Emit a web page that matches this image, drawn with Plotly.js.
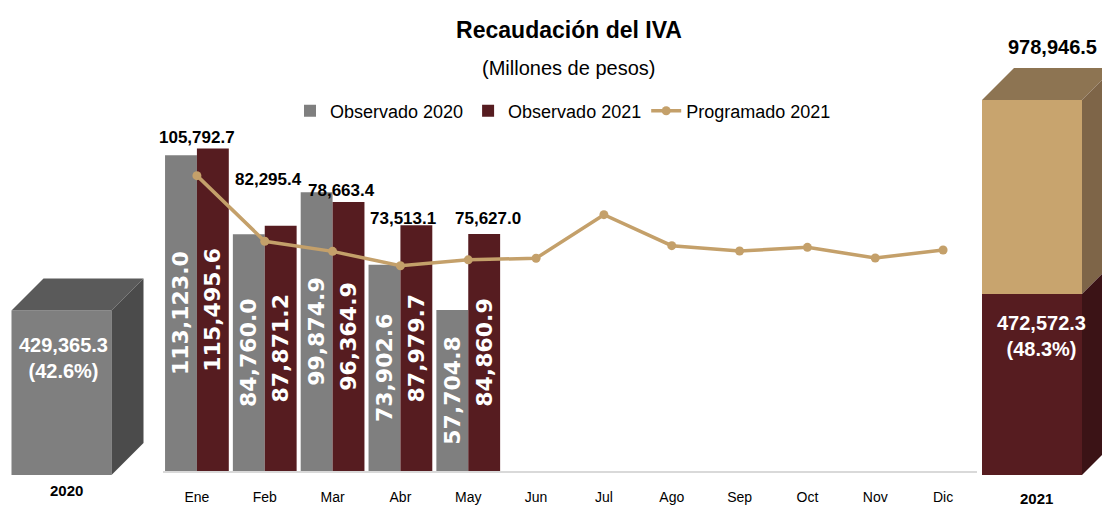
<!DOCTYPE html>
<html><head><meta charset="utf-8">
<script src="https://cdn.plot.ly/plotly-3.0.1.min.js"></script>
<style>html,body{margin:0;padding:0;background:#fff}</style>
</head><body><div id="chart" style="width:1102px;height:510px"></div>
<script>
// ---------- data ----------
const months = ['Ene','Feb','Mar','Abr','May','Jun','Jul','Ago','Sep','Oct','Nov','Dic'];
const observado2020 = [113123.0, 84760.0, 99874.9, 73902.6, 57704.8];
const observado2021 = [115495.6, 87871.2, 96364.9, 87979.7, 84860.9];
const programado2021 = [105792.7, 82295.4, 78663.4, 73513.1, 75627.0, 76200, 91800, 80700, 78800, 80100, 76300, 79155];
const annualYears = ['2020', '2021'];
const annualObs = [429365.3, 472572.3];
const annualPct = [42.6, 48.3];
const annualProg2021 = 978946.5;

// ---------- styling / layout constants ----------
const W = 1102, H = 510;
const FONT = '"Liberation Sans", Arial, sans-serif';
const C2020 = '#7f7f7f', C2021 = '#561c20', CPROG = '#c4a06a';
const mainBottomPx = 471, mainTopPx = 122, mainYMax = 125000;
const boxBottomPx = 475, boxScale = 375 / annualProg2021; // px per unit
const boxCenters = [61.5, 1032], boxWidth = 100, depthPx = 32;
const progLabelPx = [137, 180, 190, 218, 218];   // label centre y (px)
const progLabelShift = [0, 4, 9, 3, 20];         // label x shift (px)

const fmt = v => v.toLocaleString('en-US', {minimumFractionDigits:1, maximumFractionDigits:1});
const py = p => (H - p) / H;

const y2min = -(H - boxBottomPx) / boxScale;
const y2max = boxBottomPx / boxScale;
const dY = depthPx / boxScale;

const insideFont = {family:'"DejaVu Sans", sans-serif', size:22, color:'#ffffff', weight:'bold'};

const traces = [
  {type:'bar', name:'Observado 2020', x:months.slice(0, observado2020.length), y:observado2020,
   marker:{color:C2020}, text:observado2020.map(fmt), textposition:'inside', insidetextanchor:'middle',
   textangle:-90, constraintext:'none', textfont:insideFont, hoverinfo:'x+y'},
  {type:'bar', name:'Observado 2021', x:months.slice(0, observado2021.length), y:observado2021,
   marker:{color:C2021}, text:observado2021.map(fmt), textposition:'inside', insidetextanchor:'middle',
   textangle:-90, constraintext:'none', textfont:insideFont, hoverinfo:'x+y'},
  {type:'scatter', mode:'lines+markers', name:'Programado 2021', x:months, y:programado2021,
   line:{color:CPROG, width:3.5}, marker:{color:CPROG, size:9}},
  // annual boxes (front faces)
  {type:'bar', x:[boxCenters[0]], y:[annualObs[0]], width:[boxWidth], offset:[-boxWidth/2],
   marker:{color:C2020}, xaxis:'x2', yaxis:'y2', showlegend:false, hoverinfo:'y'},
  {type:'bar', x:[boxCenters[1]], y:[annualObs[1]], width:[boxWidth], offset:[-boxWidth/2],
   marker:{color:C2021}, xaxis:'x2', yaxis:'y2', showlegend:false, hoverinfo:'y'},
  {type:'bar', x:[boxCenters[1]], y:[annualProg2021 - annualObs[1]], base:[annualObs[1]],
   width:[boxWidth], offset:[-boxWidth/2],
   marker:{color:'#c8a46e'}, xaxis:'x2', yaxis:'y2', showlegend:false, hoverinfo:'y'}
];

// 3D faces
function face(pts, color) {
  return {type:'path', xref:'x2', yref:'y2', line:{width:0}, fillcolor:color, layer:'above',
    path:'M' + pts.map(p => p[0] + ',' + p[1]).join(' L') + ' Z'};
}
const shapes = [];
{
  const x0 = boxCenters[0] - boxWidth/2, x1 = boxCenters[0] + boxWidth/2, t = annualObs[0];
  shapes.push(face([[x0,t],[x1,t],[x1+depthPx,t+dY],[x0+depthPx,t+dY]], '#5a5a5a'));
  shapes.push(face([[x1,0],[x1,t],[x1+depthPx,t+dY],[x1+depthPx,dY]], '#4b4b4b'));
}
{
  const x0 = boxCenters[1] - boxWidth/2, x1 = boxCenters[1] + boxWidth/2, b = annualObs[1], t = annualProg2021;
  shapes.push(face([[x0,t],[x1,t],[x1+depthPx,t+dY],[x0+depthPx,t+dY]], '#8d7452'));
  shapes.push(face([[x1,b],[x1,t],[x1+depthPx,t+dY],[x1+depthPx,b+dY]], '#7e6548'));
  shapes.push(face([[x1,0],[x1,b],[x1+depthPx,b+dY],[x1+depthPx,dY]], '#3b1316'));
}

const ann = (o) => Object.assign({showarrow:false, xanchor:'center', yanchor:'middle'}, o);
const annotations = [];
// programado labels
for (let i = 0; i < progLabelPx.length; i++) {
  annotations.push(ann({x:months[i], xref:'x', y:py(progLabelPx[i]), yref:'paper', xshift:progLabelShift[i],
    text:'<b>' + fmt(programado2021[i]) + '</b>', font:{family:FONT, size:17, color:'#000'}}));
}
// box labels
annotations.push(ann({x:63, xref:'x2', y:py(358), yref:'paper',
  text:'<b>' + fmt(annualObs[0]) + '<br>(' + annualPct[0].toFixed(1) + '%)</b>',
  font:{family:FONT, size:20, color:'#fff'}}));
annotations.push(ann({x:1041, xref:'x2', y:py(336), yref:'paper',
  text:'<b>' + fmt(annualObs[1]) + '<br>(' + annualPct[1].toFixed(1) + '%)</b>',
  font:{family:FONT, size:20, color:'#fff'}}));
annotations.push(ann({x:1052, xref:'x2', y:py(47), yref:'paper',
  text:'<b>' + fmt(annualProg2021) + '</b>', font:{family:FONT, size:20, color:'#000'}}));
annotations.push(ann({x:66, xref:'x2', y:py(490), yref:'paper',
  text:'<b>' + annualYears[0] + '</b>', font:{family:FONT, size:15, color:'#000'}}));
annotations.push(ann({x:1036, xref:'x2', y:py(498), yref:'paper',
  text:'<b>' + annualYears[1] + '</b>', font:{family:FONT, size:15, color:'#000'}}));
// subtitle
annotations.push(ann({x:568/W, xref:'paper', y:py(68), yref:'paper',
  text:'(Millones de pesos)', font:{family:FONT, size:20, color:'#000'}}));

const layout = {
  width:W, height:H, margin:{l:0, r:0, t:0, b:0},
  paper_bgcolor:'#fff', plot_bgcolor:'rgba(0,0,0,0)',
  font:{family:FONT, color:'#000'},
  title:{text:'<b>Recaudación del IVA</b>', x:569/W, xanchor:'center', y:py(30), yanchor:'middle',
         font:{family:FONT, size:23, color:'#000'}},
  barmode:'group', bargap:0.06, bargroupgap:0,
  showlegend:true,
  legend:{orientation:'h', x:563/W, xanchor:'center', y:py(111), yanchor:'middle',
          font:{family:FONT, size:18, color:'#000'}, traceorder:'normal', itemwidth:30},
  xaxis:{domain:[163/W, 977/W], anchor:'y', type:'category', categoryarray:months, categoryorder:'array',
         range:[-0.5, 11.5], showline:true, linecolor:'#d9d9d9', linewidth:1.5, showgrid:false,
         zeroline:false, ticks:'outside', ticklen:13, tickcolor:'rgba(0,0,0,0)',
         tickfont:{family:FONT, size:14, color:'#000'}, fixedrange:true},
  yaxis:{domain:[py(mainBottomPx), py(mainTopPx)], anchor:'x', range:[0, mainYMax], visible:false,
         showgrid:false, zeroline:false, fixedrange:true},
  xaxis2:{domain:[0,1], anchor:'y2', range:[0, W], visible:false, showgrid:false, zeroline:false, fixedrange:true},
  yaxis2:{domain:[0,1], anchor:'x2', range:[y2min, y2max], visible:false, showgrid:false, zeroline:false, fixedrange:true},
  shapes:shapes, annotations:annotations
};

Plotly.newPlot('chart', traces, layout, {displayModeBar:false, staticPlot:true});
</script></body></html>
